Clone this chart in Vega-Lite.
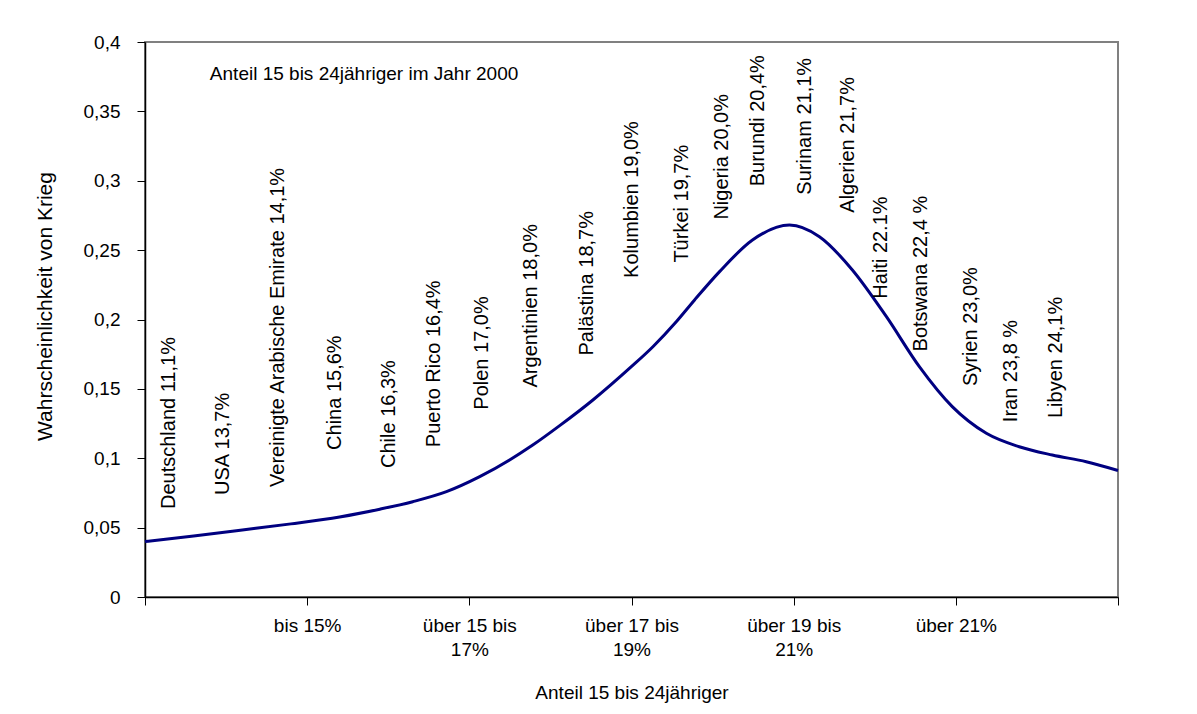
{
  "$schema": "https://vega.github.io/schema/vega-lite/v6.json",
  "autosize": {"type": "none"},
  "padding": {"left": 145, "top": 42, "right": 79, "bottom": 117},
  "width": 973,
  "height": 555,
  "background": "white",
  "config": {
    "font": "Liberation Sans",
    "view": {"stroke": "#808080", "strokeWidth": 2},
    "axis": {"labelColor": "#000", "titleColor": "#000", "titleFontWeight": "normal", "grid": false}
  },
  "encoding": {
    "x": {
      "field": "x",
      "type": "quantitative",
      "scale": {"domain": [0, 6], "nice": false},
      "axis": {
        "title": "Anteil 15 bis 24jähriger",
        "values": [0, 1, 2, 3, 4, 5, 6],
        "labelExpr": "datum.value == 1 ? 'bis 15%' : datum.value == 2 ? ['über 15 bis', '17%'] : datum.value == 3 ? ['über 17 bis', '19%'] : datum.value == 4 ? ['über 19 bis', '21%'] : datum.value == 5 ? 'über 21%' : ''",
        "labelFontSize": 19,
        "labelLineHeight": 24,
        "labelPadding": 11,
        "labelFlush": false,
        "labelOverlap": false,
        "tickSize": 8,
        "tickColor": "#000",
        "domainColor": "#000",
        "domainWidth": 1.5,
        "titleFontSize": 19,
        "titleY": 101,
        "titleBaseline": "alphabetic"
      }
    },
    "y": {
      "field": "y",
      "type": "quantitative",
      "scale": {"domain": [0, 0.4], "nice": false},
      "axis": {
        "title": "Wahrscheinlichkeit von Krieg",
        "values": [0, 0.05, 0.1, 0.15, 0.2, 0.25, 0.3, 0.35, 0.4],
        "labelExpr": "replace(format(datum.value, '.2~f'), '.', ',')",
        "labelFontSize": 19,
        "labelPadding": 17,
        "tickSize": 8,
        "tickColor": "#000",
        "domainColor": "#000",
        "domainWidth": 1.5,
        "titleFontSize": 21,
        "titleX": -100,
        "titleY": 264,
        "titleBaseline": "middle"
      }
    }
  },
  "layer": [
    {
      "data": {
        "values": [
          {"x": 0, "y": 0.04},
          {"x": 0.3, "y": 0.044},
          {"x": 0.6, "y": 0.0483},
          {"x": 0.9, "y": 0.0527},
          {"x": 1.2, "y": 0.0577},
          {"x": 1.448, "y": 0.0633},
          {"x": 1.651, "y": 0.0687},
          {"x": 1.859, "y": 0.0759},
          {"x": 2.064, "y": 0.0867},
          {"x": 2.391, "y": 0.1095},
          {"x": 2.557, "y": 0.1235},
          {"x": 2.762, "y": 0.142},
          {"x": 2.999, "y": 0.166},
          {"x": 3.132, "y": 0.1804},
          {"x": 3.276, "y": 0.1984},
          {"x": 3.389, "y": 0.2141},
          {"x": 3.543, "y": 0.2345},
          {"x": 3.746, "y": 0.2573},
          {"x": 3.974, "y": 0.2681},
          {"x": 4.159, "y": 0.2597},
          {"x": 4.362, "y": 0.2357},
          {"x": 4.572, "y": 0.202},
          {"x": 4.775, "y": 0.166},
          {"x": 4.978, "y": 0.1372},
          {"x": 5.188, "y": 0.118},
          {"x": 5.391, "y": 0.1083},
          {"x": 5.595, "y": 0.1023},
          {"x": 5.804, "y": 0.0975},
          {"x": 6, "y": 0.0912}
        ]
      },
      "mark": {"type": "line", "interpolate": "monotone", "color": "#000080", "strokeWidth": 3}
    },
    {
      "data": {
        "values": [
          {"x": 0.151, "y": 0.0634, "label": "Deutschland 11,1%"},
          {"x": 0.481, "y": 0.0735, "label": "USA 13,7%"},
          {"x": 0.819, "y": 0.0793, "label": "Vereinigte Arabische Emirate 14,1%"},
          {"x": 1.171, "y": 0.106, "label": "China 15,6%"},
          {"x": 1.503, "y": 0.093, "label": "Chile 16,3%"},
          {"x": 1.781, "y": 0.108, "label": "Puerto Rico 16,4%"},
          {"x": 2.076, "y": 0.135, "label": "Polen 17,0%"},
          {"x": 2.378, "y": 0.151, "label": "Argentinien 18,0%"},
          {"x": 2.723, "y": 0.174, "label": "Palästina 18,7%"},
          {"x": 3.0, "y": 0.23, "label": "Kolumbien 19,0%"},
          {"x": 3.309, "y": 0.241, "label": "Türkei 19,7%"},
          {"x": 3.555, "y": 0.272, "label": "Nigeria 20,0%"},
          {"x": 3.777, "y": 0.296, "label": "Burundi 20,4%"},
          {"x": 4.067, "y": 0.29, "label": "Surinam 21,1%"},
          {"x": 4.332, "y": 0.277, "label": "Algerien 21,7%"},
          {"x": 4.541, "y": 0.215, "label": "Haiti 22.1%"},
          {"x": 4.787, "y": 0.177, "label": "Botswana 22,4 %"},
          {"x": 5.096, "y": 0.152, "label": "Syrien 23,0%"},
          {"x": 5.342, "y": 0.126, "label": "Iran 23,8 %"},
          {"x": 5.619, "y": 0.129, "label": "Libyen 24,1%"}
        ]
      },
      "mark": {"type": "text", "angle": 270, "align": "left", "baseline": "middle", "fontSize": 20, "color": "#000"},
      "encoding": {
        "text": {"field": "label"}
      }
    },
    {
      "data": {
        "values": [
          {"x": 0.4, "y": 0.3726, "label": "Anteil 15 bis 24jähriger im Jahr 2000"}
        ]
      },
      "mark": {"type": "text", "align": "left", "baseline": "alphabetic", "fontSize": 19, "color": "#000"},
      "encoding": {
        "text": {"field": "label"}
      }
    }
  ]
}
